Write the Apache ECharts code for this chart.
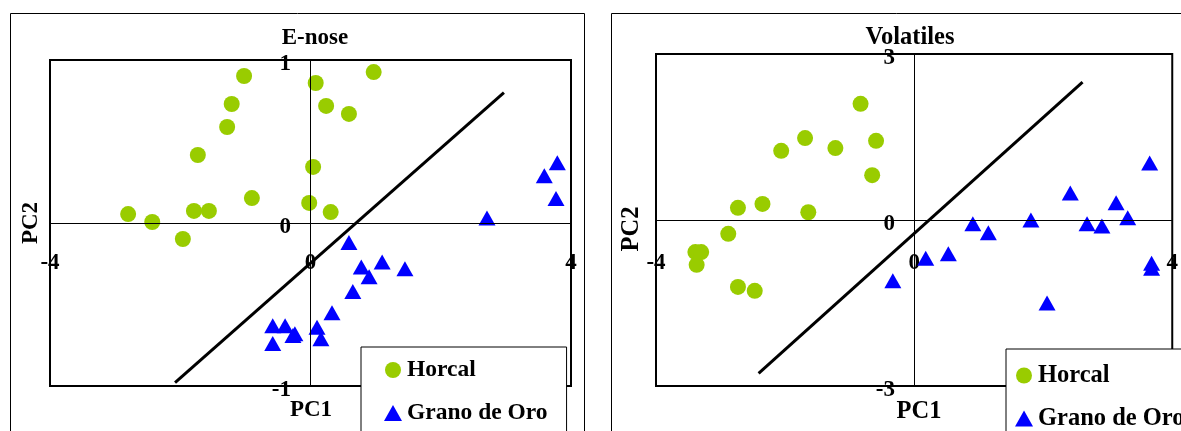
<!DOCTYPE html>
<html>
<head>
<meta charset="utf-8">
<script src="https://cdn.jsdelivr.net/npm/echarts@6/dist/echarts.min.js"></script>
<style>
  html, body { margin: 0; padding: 0; background: #fff; }
  #chart { width: 1181px; height: 431px; }
</style>
</head>
<body>
<div id="chart"></div>
<script>
// E-nose panel: PC scores
const ENOSE_HORCAL_PC1 = [-2.80, -2.43, -1.96, -1.79, -1.56, -1.73, -1.28, -1.21, -1.02, -0.90, 0.08, 0.24, 0.59, 0.97, 0.04, -0.02, 0.31];
const ENOSE_HORCAL_PC2 = [0.055, 0.006, -0.098, 0.074, 0.074, 0.417, 0.589, 0.730, 0.902, 0.153, 0.859, 0.718, 0.669, 0.926, 0.344, 0.123, 0.067];
const ENOSE_GRANO_PC1 = [0.59, 0.78, 1.10, 0.90, 1.45, 0.65, 0.33, 0.10, 0.16, -0.24, -0.58, -0.39, -0.58, -0.27, 2.71, 3.79, 3.59, 3.77];
const ENOSE_GRANO_PC2 = [-0.12, -0.27, -0.24, -0.33, -0.28, -0.42, -0.55, -0.64, -0.71, -0.68, -0.63, -0.63, -0.74, -0.69, 0.03, 0.37, 0.29, 0.15];
const ENOSE_SPLIT_PC1 = [-2.08, 2.97];
const ENOSE_SPLIT_PC2 = [-0.98, 0.80];

// Volatiles panel: PC scores
const VOL_HORCAL_PC1 = [-0.83, -1.69, -2.06, -1.22, -0.59, -0.65, -2.73, -2.35, -1.64, -2.88, -3.39, -3.30, -3.37, -2.73, -2.47];
const VOL_HORCAL_PC2 = [2.10, 1.48, 1.25, 1.30, 1.43, 0.81, 0.22, 0.29, 0.14, -0.25, -0.58, -0.58, -0.81, -1.21, -1.28];
const VOL_GRANO_PC1 = [3.65, 2.42, 3.13, 0.91, 1.15, 1.81, 2.68, 2.91, 3.31, 0.18, 0.53, -0.33, 2.06, 3.68, 3.68];
const VOL_GRANO_PC2 = [1.03, 0.49, 0.31, -0.07, -0.23, 0.00, -0.07, -0.11, 0.04, -0.69, -0.61, -1.10, -1.50, -0.78, -0.87];
const VOL_SPLIT_PC1 = [-2.41, 2.61];
const VOL_SPLIT_PC2 = [-2.77, 2.49];

// axis ranges: min, max, interval
const PC1_RANGE = [-4, 4, 4];
const ENOSE_PC2_RANGE = [-1, 1, 1];
const VOL_PC2_RANGE = [-3, 3, 3];

const GROUPS = ['Horcal', 'Grano de Oro'];
const TITLES = ['E-nose', 'Volatiles'];

const FONT = '"Liberation Serif", "Times New Roman", serif';
const FONT_SIZE = 23;
const FONT_SIZE_RIGHT = 24.5; // 右图文字略大
const GREEN = '#99cc00';
const BLUE = '#0000ff';

const zip = (xs, ys) => xs.map((x, i) => [x, ys[i]]);

const labelStyle = { fontFamily: FONT, fontWeight: 'bold', fontSize: FONT_SIZE, color: '#000' };

function xAxisFor(gridIndex, range) {
  return {
    gridIndex, type: 'value', min: range[0], max: range[1], interval: range[2],
    position: 'bottom', offset: -134,
    axisLine: { show: false }, axisTick: { show: false }, splitLine: { show: false },
    axisLabel: Object.assign({ margin: 0 }, labelStyle)
  };
}

// y 轴标签贴在纵向零线左侧，略低于刻度
function yAxisFor(gridIndex, range, offset, margin) {
  return {
    gridIndex, type: 'value', min: range[0], max: range[1], interval: range[2],
    position: 'left', offset,
    axisLine: { show: false }, axisTick: { show: false }, splitLine: { show: false },
    axisLabel: Object.assign({ margin, verticalAlign: 'top', lineHeight: 8 }, labelStyle)
  };
}

// 零线（坐标轴交叉线）
const zeroLines = {
  silent: true, symbol: 'none', label: { show: false },
  lineStyle: { color: '#000', width: 1, type: 'solid' },
  data: [{ xAxis: 0 }, { yAxis: 0 }]
};

function panelSeries(i, horcal, grano, split) {
  return [
    {
      name: GROUPS[0], type: 'scatter', xAxisIndex: i, yAxisIndex: i,
      data: horcal, symbol: 'circle', symbolSize: 16,
      itemStyle: { color: GREEN, opacity: 1 }, z: 3,
      markLine: zeroLines
    },
    {
      name: GROUPS[1], type: 'scatter', xAxisIndex: i, yAxisIndex: i,
      data: grano, symbol: 'triangle', symbolSize: [17, 15],
      itemStyle: { color: BLUE, opacity: 1 }, z: 3
    },
    {
      name: 'split' + i, type: 'line', xAxisIndex: i, yAxisIndex: i,
      data: split, symbol: 'none', silent: true,
      lineStyle: { color: '#000', width: 3 }, z: 2
    }
  ];
}

// 图例：竖排，框体延伸到画布下方
function legendAt(left, top, padding, itemGap, fontSize) {
  return {
    left, top, height: 160, orient: 'vertical', itemGap,
    itemWidth: 18, itemHeight: 16, padding,
    backgroundColor: '#fff', borderColor: '#000', borderWidth: 1,
    selectedMode: false, z: 10,
    textStyle: { fontFamily: FONT, fontWeight: 'bold', fontSize, color: '#000' },
    data: [{ name: GROUPS[0], icon: 'circle' }, { name: GROUPS[1], icon: 'triangle' }]
  };
}

function freeText(text, x, y, size, rotation) {
  return {
    type: 'text', x, y, rotation: rotation || 0, z: 5,
    style: { text, font: 'bold ' + size + 'px ' + FONT, fill: '#000', align: 'center', verticalAlign: 'middle' }
  };
}

const chart = echarts.init(document.getElementById('chart'));

chart.setOption({
  animation: false,
  backgroundColor: '#fff',
  grid: [
    { left: 50, top: 60, width: 521, height: 326, show: true, borderColor: '#000', borderWidth: 2, backgroundColor: 'transparent' },
    { left: 656, top: 54, width: 523, height: 332, show: true, borderColor: '#000', borderWidth: 2, backgroundColor: 'transparent' }
  ],
  xAxis: [xAxisFor(0, PC1_RANGE), xAxisFor(1, PC1_RANGE)],
  yAxis: [yAxisFor(0, ENOSE_PC2_RANGE, -261, 20), yAxisFor(1, VOL_PC2_RANGE, -262, 23)],
  legend: [
    legendAt(361, 347, [11, 19, 30, 23], 19, 23.5),
    legendAt(1006, 349, [14, 20, 30, 9], 18, FONT_SIZE_RIGHT)
  ],
  graphic: [
    { type: 'rect', z: -1, shape: { x: 10.5, y: 13.5, width: 574, height: 440 }, style: { fill: null, stroke: '#000', lineWidth: 1 } },
    { type: 'rect', z: -1, shape: { x: 611.5, y: 13.5, width: 620, height: 440 }, style: { fill: null, stroke: '#000', lineWidth: 1 } },
    freeText(TITLES[0], 315, 38, FONT_SIZE),
    freeText(TITLES[1], 910, 38, FONT_SIZE_RIGHT),
    freeText('PC1', 311, 410, FONT_SIZE),
    freeText('PC1', 919, 412, FONT_SIZE_RIGHT),
    freeText('PC2', 31, 223, FONT_SIZE, Math.PI / 2),
    freeText('PC2', 632, 229, FONT_SIZE_RIGHT, Math.PI / 2)
  ],
  series: [
    ...panelSeries(0, zip(ENOSE_HORCAL_PC1, ENOSE_HORCAL_PC2), zip(ENOSE_GRANO_PC1, ENOSE_GRANO_PC2), zip(ENOSE_SPLIT_PC1, ENOSE_SPLIT_PC2)),
    ...panelSeries(1, zip(VOL_HORCAL_PC1, VOL_HORCAL_PC2), zip(VOL_GRANO_PC1, VOL_GRANO_PC2), zip(VOL_SPLIT_PC1, VOL_SPLIT_PC2))
  ]
});

window.addEventListener('resize', () => chart.resize());
</script>
</body>
</html>
